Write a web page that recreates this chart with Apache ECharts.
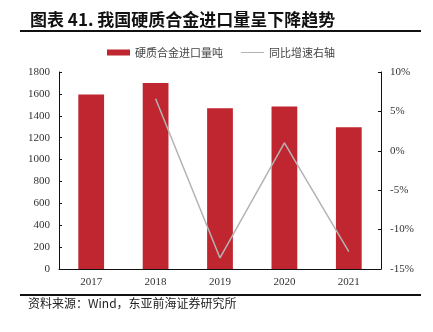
<!DOCTYPE html>
<html>
<head>
<meta charset="utf-8">
<script src="https://cdn.jsdelivr.net/npm/echarts@6/dist/echarts.min.js"></script>
<style>
  html, body { margin: 0; padding: 0; background: #fff; }
  #chart { width: 433px; height: 332px; }
</style>
</head>
<body>
<div id="chart"></div>
<script>
// Carbide import volume (tonnes) and year-on-year growth (%)
const years = ['2017', '2018', '2019', '2020', '2021'];
const importVolume = [1595, 1700, 1469, 1484, 1295];
const yoyGrowth = [null, 6.6, -13.6, 1.0, -12.8];
const leftTicks = { min: 0, max: 1800, interval: 200 };
const rightTicks = { min: -15, max: 10, interval: 5 };

const serif = '"Liberation Serif", "Times New Roman", serif';
const cjk = '"Noto Sans CJK SC", sans-serif';

const chart = echarts.init(document.getElementById('chart'), null, { renderer: 'canvas' });
chart.setOption({
  animation: false,
  backgroundColor: '#fff',
  graphic: [
    { type: 'text', left: 30, top: 11, style: { text: '图表 41. 我国硬质合金进口量呈下降趋势', font: 'bold 17px ' + cjk, fill: '#111' } },
    { type: 'line', shape: { x1: 20, y1: 31, x2: 421, y2: 31 }, style: { stroke: '#111', lineWidth: 2 } },
    { type: 'line', shape: { x1: 20, y1: 295, x2: 421, y2: 295 }, style: { stroke: '#111', lineWidth: 2 } },
    { type: 'text', left: 28, top: 297, style: { text: '资料来源：Wind，东亚前海证券研究所', font: '12px ' + cjk, fill: '#222' } }
  ],
  legend: {
    top: 42,
    left: 102,
    itemGap: 18,
    itemWidth: 23,
    itemHeight: 6,
    textStyle: { fontFamily: cjk, fontSize: 11, color: '#444' },
    data: [
      { name: '硬质合金进口量吨', icon: 'rect' },
      { name: '同比增速右轴', icon: 'path://M0,0 L23,0 L23,1 L0,1 Z' }
    ]
  },
  grid: { left: 59, right: 52, top: 72, bottom: 63 },
  xAxis: {
    type: 'category',
    data: years,
    axisLine: { lineStyle: { color: '#111', width: 1 } },
    axisTick: { show: false },
    axisLabel: { fontFamily: serif, fontSize: 11, color: '#333', margin: 8 }
  },
  yAxis: [
    {
      type: 'value',
      min: leftTicks.min, max: leftTicks.max, interval: leftTicks.interval,
      axisLine: { show: true, lineStyle: { color: '#111' } },
      axisTick: { show: true, inside: true, length: 3, lineStyle: { color: '#111' } },
      splitLine: { show: false },
      axisLabel: { fontFamily: serif, fontSize: 11, color: '#333', margin: 9, formatter: (v) => String(v) }
    },
    {
      type: 'value',
      min: rightTicks.min, max: rightTicks.max, interval: rightTicks.interval,
      position: 'right',
      axisLine: { show: true, lineStyle: { color: '#111' } },
      axisTick: { show: true, inside: true, length: 3, lineStyle: { color: '#111' } },
      splitLine: { show: false },
      axisLabel: { fontFamily: serif, fontSize: 11, color: '#333', margin: 9, formatter: (v) => v + '%' }
    }
  ],
  series: [
    {
      name: '硬质合金进口量吨',
      type: 'bar',
      data: importVolume,
      barWidth: '40%',
      itemStyle: { color: '#C0262F' }
    },
    {
      name: '同比增速右轴',
      type: 'line',
      yAxisIndex: 1,
      data: yoyGrowth,
      showSymbol: false,
      symbol: 'none',
      lineStyle: { color: '#B3B3B3', width: 1.5 },
      itemStyle: { color: '#B3B3B3' }
    }
  ]
});
</script>
</body>
</html>
